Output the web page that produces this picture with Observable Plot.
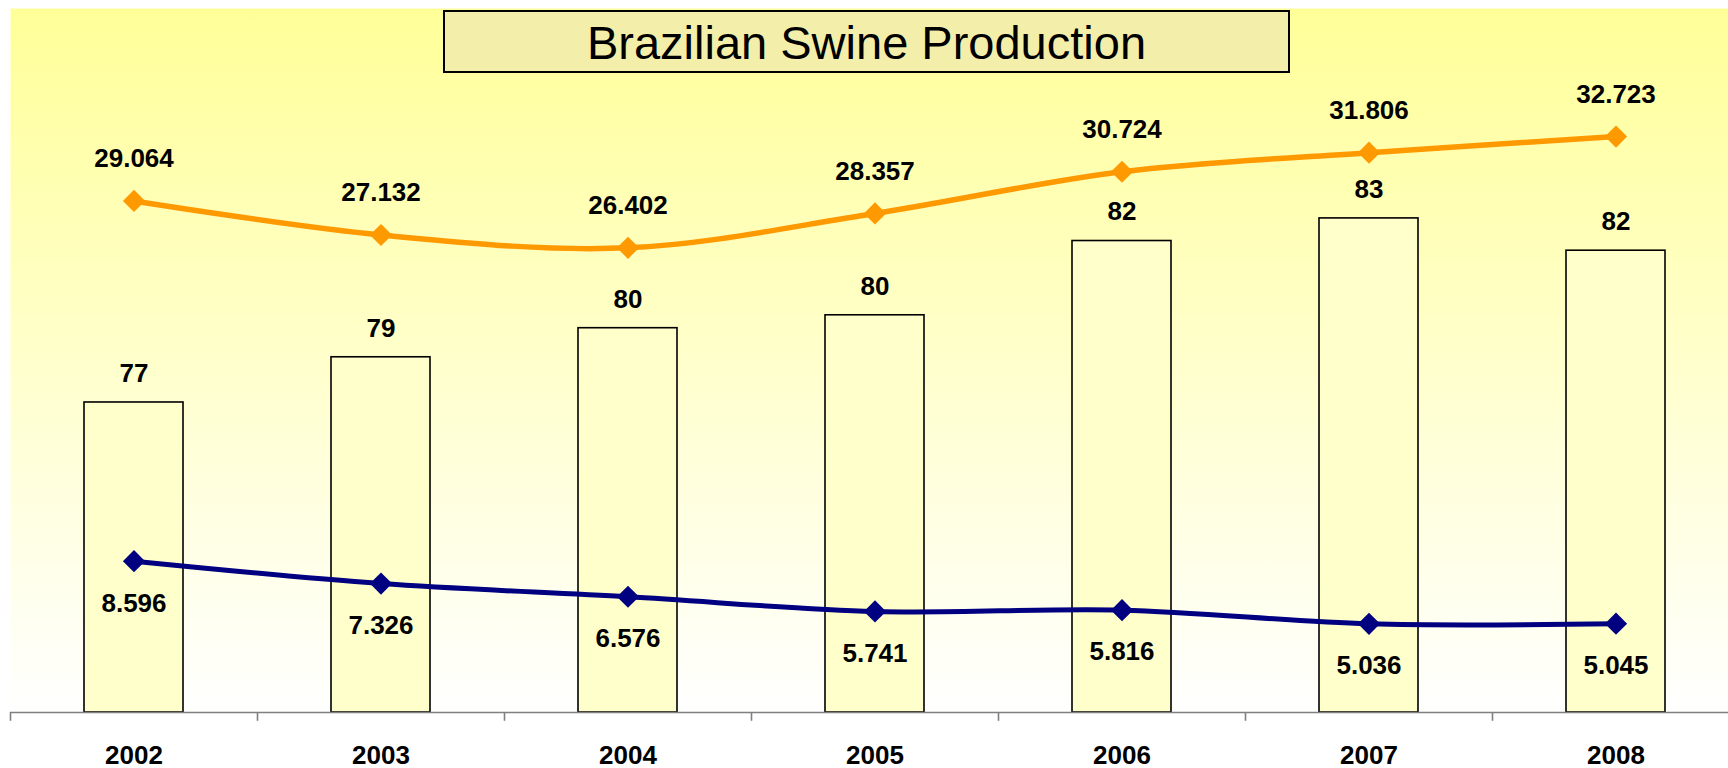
<!DOCTYPE html>
<html>
<head>
<meta charset="utf-8">
<script src="https://cdn.jsdelivr.net/npm/d3@7"></script>
<script src="https://cdn.jsdelivr.net/npm/@observablehq/plot@0.6"></script>
<style>
html, body { margin: 0; padding: 0; background: #ffffff; overflow: hidden; }
#wrap { position: relative; width: 1728px; height: 768px; }
#wrap svg { display: block; }
#title {
  position: absolute; left: 443px; top: 10px; width: 843px; height: 57px;
  border: 2px solid #000; background: #F3EFAA; z-index: 1;
  font-family: "Liberation Sans", Arial, sans-serif; font-size: 47px; color: #000;
  display: flex; align-items: center; justify-content: center; padding-top: 2px; box-sizing: content-box;
}
</style>
</head>
<body>
<div id="wrap"><div id="title">Brazilian Swine Production</div></div>
<script>
// ---- data ----
const years = ["2002", "2003", "2004", "2005", "2006", "2007", "2008"];
const barValues = [77.3, 78.7, 79.6, 80.0, 82.3, 83.0, 82.0];          // bars (secondary, hidden axis)
const orangeValues = [29.064, 27.132, 26.402, 28.357, 30.724, 31.806, 32.723];
const navyValues = [8.596, 7.326, 6.576, 5.741, 5.816, 5.036, 5.045];
const primaryAxisDomain = [0, 40];        // hidden axis of both lines
const secondaryAxisDomain = [67.7, 89.5]; // hidden axis of the bars

const rows = years.map((year, i) => ({
  year, bar: barValues[i], orange: orangeValues[i], navy: navyValues[i]
}));

// map the secondary axis onto the primary one (dual-axis chart)
const toPrimary = v =>
  primaryAxisDomain[0] + (v - secondaryAxisDomain[0]) / (secondaryAxisDomain[1] - secondaryAxisDomain[0]) *
  (primaryAxisDomain[1] - primaryAxisDomain[0]);

const W = 1728, H = 768;
const mL = 10, mR = -11;
const step = (W - mL - mR) / years.length;
const f3 = d3.format(".3f"), f0 = d3.format(".0f");
const labelFont = { fontSize: 26, fontWeight: "bold", fill: "#000" };

const plot = Plot.plot({
  width: W, height: H,
  marginLeft: mL, marginRight: mR, marginTop: 8, marginBottom: 56,
  x: { domain: years, paddingInner: 0.6, paddingOuter: 0.3, label: null },
  y: { domain: primaryAxisDomain, axis: null },
  style: { fontFamily: "'Liberation Sans', Arial, sans-serif", background: "transparent", overflow: "visible", color: "#000" },
  marks: [
    Plot.frame({ fill: "url(#plotGrad)", stroke: "none" }),
    Plot.barY(rows, { x: "year", y: d => toPrimary(d.bar), fill: "#FFFFCC", stroke: "#000", strokeWidth: 1.6 }),
    Plot.ruleY([0], { stroke: "#808080", strokeWidth: 1.6 }),
    Plot.ruleX(years, { x: d => d, y1: 0, y2: -0.5, dx: -step / 2, stroke: "#808080", strokeWidth: 1.6 }),
    Plot.axisX({ tickSize: 0, tickPadding: 33, fontSize: 26, fontWeight: "bold", fill: "#000", label: null }),
    Plot.line(rows, { x: "year", y: "orange", stroke: "#FF9900", strokeWidth: 5.5, curve: "catmull-rom" }),
    Plot.line(rows, { x: "year", y: "navy", stroke: "#000080", strokeWidth: 5, curve: "catmull-rom" }),
    Plot.dot(rows, { x: "year", y: "orange", symbol: "diamond2", r: 10, fill: "#FF9900" }),
    Plot.dot(rows, { x: "year", y: "navy", symbol: "diamond2", r: 10, fill: "#000080" }),
    Plot.text(rows, { x: "year", y: "orange", text: d => f3(d.orange), dy: -42, ...labelFont }),
    Plot.text(rows, { x: "year", y: "navy", text: d => f3(d.navy), dy: 42, ...labelFont }),
    Plot.text(rows, { x: "year", y: d => toPrimary(d.bar), text: d => f0(d.bar), dy: -29, ...labelFont })
  ]
});

d3.select(plot).insert("defs", ":first-child").html(
  '<linearGradient id="plotGrad" x1="0" y1="0" x2="0" y2="1">' +
  '<stop offset="0" stop-color="#FFFF99"/><stop offset="1" stop-color="#FFFFFF"/></linearGradient>'
);
document.getElementById("wrap").prepend(plot);
</script>
</body>
</html>
